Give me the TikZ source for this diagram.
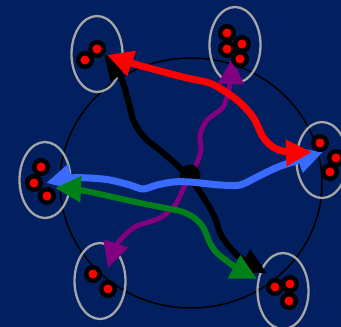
\documentclass[tikz,border=0pt]{standalone}
\usetikzlibrary{arrows.meta,shapes.geometric}
\definecolor{navyBg}{HTML}{02205F}
\definecolor{groupGray}{HTML}{A6A6A6}
\definecolor{linkBlue}{HTML}{3A6BFF}
\definecolor{linkGreen}{HTML}{007F1A}
\definecolor{linkPurple}{HTML}{800080}
\tikzset{
  group/.style={ellipse, draw=groupGray, line width=2.3pt, minimum width=51pt,
    minimum height=76pt, inner sep=0pt},
  member/.style={circle, fill=red, draw=black, line width=4.5pt,
    minimum size=13.5pt, inner sep=0pt},
  hub/.style={circle, fill=black, minimum size=21pt, inner sep=0pt},
  link/.style={{Triangle[length=26pt,width=25pt]}-{Triangle[length=26pt,width=25pt]},
    draw=#1, line width=6pt, line join=round}
}
\begin{document}
\begin{tikzpicture}[x=1pt,y=-1pt]
  \fill[navyBg] (0,0) rectangle (341,327);
  \useasboundingbox (0,0) rectangle (341,327);
  \draw[line width=1.5pt] (191,183) ellipse [x radius=131pt, y radius=125pt];
  % clusters
  \foreach \g/\x/\y in {tl/97/54, t/235/45, r/322/160, l/45/180, bl/100/281, br/283/291}
    \node[group] (\g) at (\x,\y) {};
  % arrow ends
  \coordinate (redA) at (107,55);
  \coordinate (redB) at (312,152);
  \coordinate (purA) at (232,58);
  \coordinate (purB) at (108,268);
  \coordinate (blkA) at (104,54);
  \coordinate (blkB) at (267,273);
  \coordinate (bluA) at (46,183);
  \coordinate (bluB) at (323,152);
  \coordinate (grnA) at (55,188);
  \coordinate (grnB) at (257,279);
  % links
  \draw[link=linkPurple, line width=5pt] plot[smooth, tension=0.5] coordinates {(purA) (230,84) (223,107) (207,120) (200,135) (201,150) (196,165) (185,185) (175,205) (160,218) (135,227) (118,243) (purB)};
  \draw[link=black] plot[smooth, tension=0.5] coordinates {(blkA) (120,75) (128,100) (134,122) (145,138) (162,152) (180,168) (195,185) (207,203) (215,218) (221,235) (232,250) (245,261) (blkB)};
  \node[hub] (mid) at (190,175) {};
  \draw[link=linkBlue, line width=7pt] plot[smooth, tension=0.5] coordinates {(bluA) (70,178) (90,178) (110,180) (130,185) (143,189) (157,185) (173,182) (190,182) (220,185) (240,185) (257,177) (278,167) (299,160) (bluB)};
  \draw[link=linkGreen] plot[smooth, tension=0.5] coordinates {(grnA) (80,190) (113,197) (140,203) (160,207) (180,211) (193,217) (203,227) (210,243) (217,253) (234,266) (grnB)};
  \draw[link=red, line width=7pt] plot[smooth, tension=0.5] coordinates {(redA) (131,63) (160,71) (187,78) (212,84) (237,100) (253,117) (263,137) (273,147) (287,152) (redB)};
  % members
  \foreach \d/\x/\y in {tl1/97/49, tl2/85/60, t1/227/33, t2/227/49, t3/242/44, t4/240/59,
      r1/320/143, r2/336/158, r3/330/172, l1/41/167, l2/34/183, l3/47/196,
      bl1/93/274, bl2/108/289, br1/275/287, br2/290/284, br3/289/301}
    \node[member] (\d) at (\x,\y) {};
\end{tikzpicture}
\end{document}
